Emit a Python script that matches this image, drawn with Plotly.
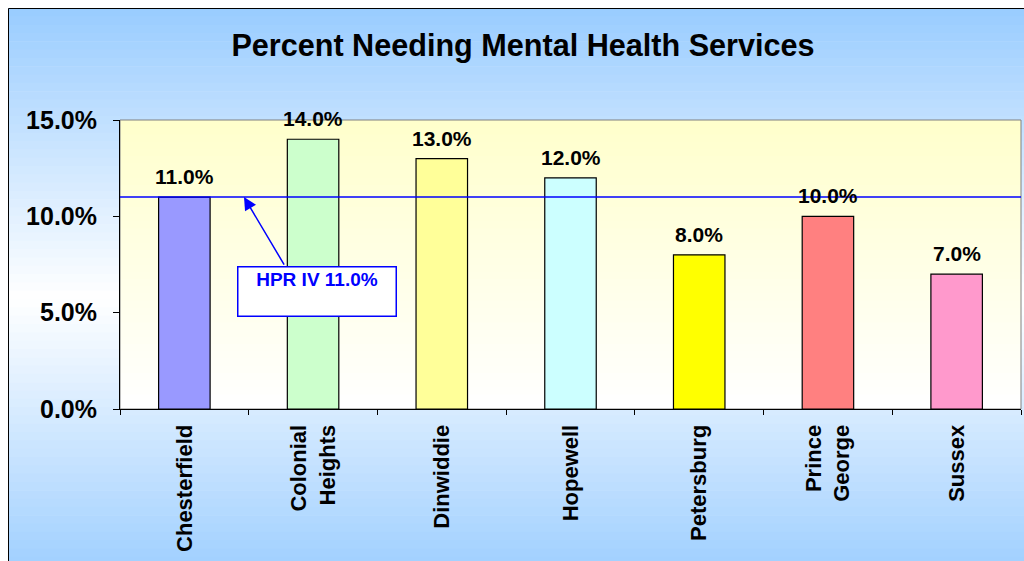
"""
Percent Needing Mental Health Services - bar chart with HPR IV reference line
"""
import plotly.graph_objects as go

# Data
localities = ['Chesterfield', 'Colonial<br>Heights', 'Dinwiddie', 'Hopewell',
              'Petersburg', 'Prince<br>George', 'Sussex']
percent_needing = [11.0, 14.0, 13.0, 12.0, 8.0, 10.0, 7.0]
bar_colors = ['#9999ff', '#ccffcc', '#ffff99', '#ccffff',
              '#ffff00', '#ff8080', '#ff99cc']
hpr_value = 11.0
y_ticks = [0, 5, 10, 15]
y_tick_labels = ['0.0%', '5.0%', '10.0%', '15.0%']

# Page geometry (pixels)
W, H = 1024, 561
L, R, T, B = 120, 3, 120, 152
PW, PH = W - L - R, H - T - B
FONT = 'Liberation Sans, Arial, sans-serif'


def px_x(px):
    return (px - L) / PW


def px_y(py):
    return (H - B - py) / PH


def lerp(c1, c2, t):
    c = [round(a + (b - a) * t) for a, b in zip(c1, c2)]
    return 'rgb({},{},{})'.format(*c)


shapes = []

# Fond du graphique : dégradé bleu -> blanc -> bleu
top, bottom, centre = 8, 590, 298
n = 70
step = (bottom - top) / n
for i in range(n):
    y0 = top + i * step
    y1 = y0 + step + 0.6
    t = min(abs((y0 + step / 2) - centre) / (centre - top), 1)
    shapes.append(dict(type='rect', xref='paper', yref='paper', layer='below',
                       x0=px_x(8), x1=px_x(1040), y0=px_y(y0), y1=px_y(y1),
                       line=dict(width=0),
                       fillcolor=lerp((255, 255, 255), (153, 204, 255), t)))

# Zone de tracé : dégradé jaune pâle -> blanc
n2 = 40
for i in range(n2):
    t = i / (n2 - 1)
    shapes.append(dict(type='rect', xref='x domain', yref='y domain', layer='below',
                       x0=0, x1=1, y0=1 - (i + 1) / n2 - 0.003, y1=1 - i / n2,
                       line=dict(width=0),
                       fillcolor=lerp((255, 255, 204), (255, 255, 255), t)))

# Bordure de la zone de tracé
shapes.append(dict(type='rect', xref='x domain', yref='y domain', layer='below',
                   x0=0, x1=1, y0=0, y1=1, line=dict(color='#808080', width=1)))

# Bordure extérieure
shapes.append(dict(type='rect', xref='paper', yref='paper', layer='below',
                   x0=px_x(8.5), x1=px_x(1060), y0=px_y(8.5), y1=px_y(620),
                   line=dict(color='black', width=1)))

# Ligne HPR IV
shapes.append(dict(type='line', xref='x domain', yref='y', layer='above',
                   x0=0, x1=1, y0=hpr_value, y1=hpr_value,
                   line=dict(color='#0000ff', width=1.5)))

fig = go.Figure()

fig.add_trace(go.Bar(
    x=localities,
    y=percent_needing,
    width=0.4,
    marker=dict(color=bar_colors, line=dict(color='black', width=1.2)),
    hoverinfo='x+y'
))

annotations = []

# Étiquettes de données
for loc, val in zip(localities, percent_needing):
    annotations.append(dict(
        x=loc, y=val, xref='x', yref='y', text=f'{val:.1f}%',
        showarrow=False, yanchor='bottom', yshift=7,
        font=dict(family=FONT, size=21, color='black', weight='bold')
    ))

# Flèche vers la ligne HPR
annotations.append(dict(
    x=px_x(244), y=hpr_value, xref='paper', yref='y', text='',
    showarrow=True, arrowhead=2, arrowsize=1.7, arrowwidth=1.5,
    arrowcolor='#0000ff', ax=41, ay=69, standoff=0
))

# Boîte HPR IV
annotations.append(dict(
    x=px_x(317), y=px_y(291.5), xref='paper', yref='paper',
    xanchor='center', yanchor='middle',
    text='HPR IV 11.0%', showarrow=False,
    width=155, height=46, valign='top', borderpad=1,
    bgcolor='white', bordercolor='#0000ff', borderwidth=1.5,
    font=dict(family=FONT, size=19, color='#0000ff', weight='bold')
))

fig.update_layout(
    width=W,
    height=H,
    margin=dict(l=L, r=R, t=T, b=B, pad=0),
    paper_bgcolor='white',
    plot_bgcolor='rgba(0,0,0,0)',
    title=dict(text='Percent Needing Mental Health Services',
               x=523 / W, xref='container', xanchor='center',
               y=1 - 45 / H, yref='container', yanchor='middle',
               font=dict(family=FONT, size=30.6, color='black', weight='bold')),
    xaxis=dict(
        showline=True, linecolor='black', linewidth=1,
        ticks='outside', ticklen=5, tickcolor='black', tickson='boundaries',
        tickangle=-90, showgrid=False,
        tickfont=dict(family=FONT, size=22, color='black', weight='bold'),
        ticklabelstandoff=6
    ),
    yaxis=dict(
        range=[0, 15], tickvals=y_ticks, ticktext=y_tick_labels,
        showline=True, linecolor='black', linewidth=1,
        ticks='outside', ticklen=6, tickcolor='black',
        showgrid=False, zeroline=False,
        tickfont=dict(family=FONT, size=25, color='black', weight='bold'),
        ticklabelstandoff=11
    ),
    shapes=shapes,
    annotations=annotations,
    showlegend=False,
    bargap=0.6
)

fig.write_html("out.html", config={'displayModeBar': False},
               post_script="document.body.style.margin='0';")
